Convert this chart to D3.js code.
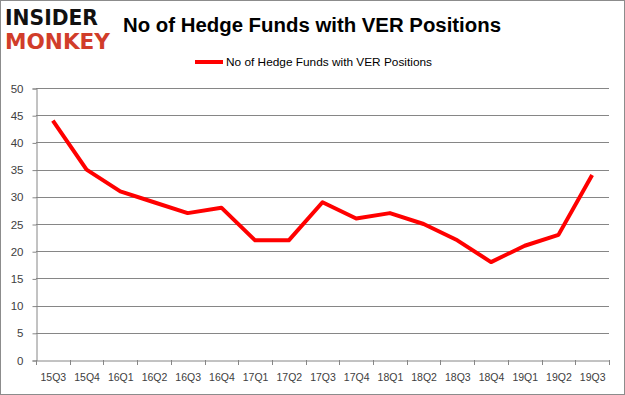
<!DOCTYPE html>
<html><head><meta charset="utf-8">
<script src="https://cdn.jsdelivr.net/npm/d3@7"></script>
<style>body{margin:0;background:#fff}svg{display:block}</style>
</head><body>
<script>
const categories = ["15Q3","15Q4","16Q1","16Q2","16Q3","16Q4","17Q1","17Q2","17Q3","17Q4","18Q1","18Q2","18Q3","18Q4","19Q1","19Q2","19Q3"];
const values = [44,35,31,29,27,28,22,22,29,26,27,25,22,18,21,23,34];
const yTicks = [0,5,10,15,20,25,30,35,40,45,50];
const seriesName = "No of Hedge Funds with VER Positions";
const titleText = "No of Hedge Funds with VER Positions";

(function(){
const W = 625, H = 395;
const svg = d3.select("body").append("svg").attr("width", W).attr("height", H);
svg.append("rect").attr("x",0.5).attr("y",0.5).attr("width",W-1).attr("height",H-1)
  .attr("fill","#fff").attr("stroke","#8c8c8c");

const pl = 36, pr = 609, pt = 88, pb = 360;
const x = d3.scaleBand().domain(categories).range([pl, pr]);
const y = d3.scaleLinear().domain([0,50]).range([pb, pt]);
const font = "'Liberation Sans', Arial, sans-serif";

// gridlines
svg.append("g").selectAll("line").data(yTicks.filter(d=>d>0)).join("line")
  .attr("x1", pl).attr("x2", pr)
  .attr("y1", d=>Math.round(y(d))+0.5).attr("y2", d=>Math.round(y(d))+0.5)
  .attr("stroke","#868686").attr("stroke-width",1);

// y axis
const ya = svg.append("g").attr("transform",`translate(${pl+0.5},0.5)`)
  .call(d3.axisLeft(y).tickValues(yTicks).tickSize(4).tickPadding(9));
ya.select(".domain").attr("stroke","#868686");
ya.selectAll(".tick line").attr("stroke","#868686");
ya.selectAll("text").attr("font-family",font).attr("font-size",11.5).attr("fill","#404040");

// x axis
const xa = svg.append("g").attr("transform",`translate(0.5,${pb+0.5})`)
  .call(d3.axisBottom(x).tickSize(0).tickPadding(13));
xa.select(".domain").attr("stroke","#868686");
xa.selectAll("text").attr("font-family",font).attr("font-size",10.5).attr("fill","#404040");
const bounds = categories.map(c=>x(c)).concat([pr]);
svg.append("g").selectAll("line").data(bounds).join("line")
  .attr("x1",d=>Math.round(d)+0.5).attr("x2",d=>Math.round(d)+0.5)
  .attr("y1",pb).attr("y2",pb+5).attr("stroke","#868686");

// line
const line = d3.line().x((d,i)=>x(categories[i])+x.bandwidth()/2).y(d=>y(d));
svg.append("path").datum(values).attr("d",line).attr("fill","none")
  .attr("stroke","#ff0000").attr("stroke-width",4).attr("stroke-linejoin","round");

// title
svg.append("text").attr("x",123).attr("y",32).attr("font-family",font).attr("font-weight","bold")
  .attr("font-size",20).attr("textLength",378).attr("lengthAdjust","spacingAndGlyphs")
  .attr("fill","#000").text(titleText);

// legend
svg.append("line").attr("x1",195).attr("x2",223).attr("y1",62).attr("y2",62)
  .attr("stroke","#ff0000").attr("stroke-width",4);
svg.append("text").attr("x",226).attr("y",66).attr("font-family",font).attr("font-size",11)
  .attr("textLength",206).attr("lengthAdjust","spacingAndGlyphs").attr("fill","#000").text(seriesName);

// logo
svg.append("text").attr("x",5).attr("y",25).attr("font-family","'DejaVu Sans', sans-serif")
  .attr("font-weight","bold").attr("font-size",21).attr("textLength",93)
  .attr("lengthAdjust","spacingAndGlyphs").attr("fill","#111").text("INSIDER");
svg.append("text").attr("x",5).attr("y",49).attr("font-family","'DejaVu Sans', sans-serif")
  .attr("font-weight","bold").attr("font-size",21).attr("textLength",105)
  .attr("lengthAdjust","spacingAndGlyphs").attr("fill","#d13d2a").text("MONKEY");
})();
</script>
</body></html>
